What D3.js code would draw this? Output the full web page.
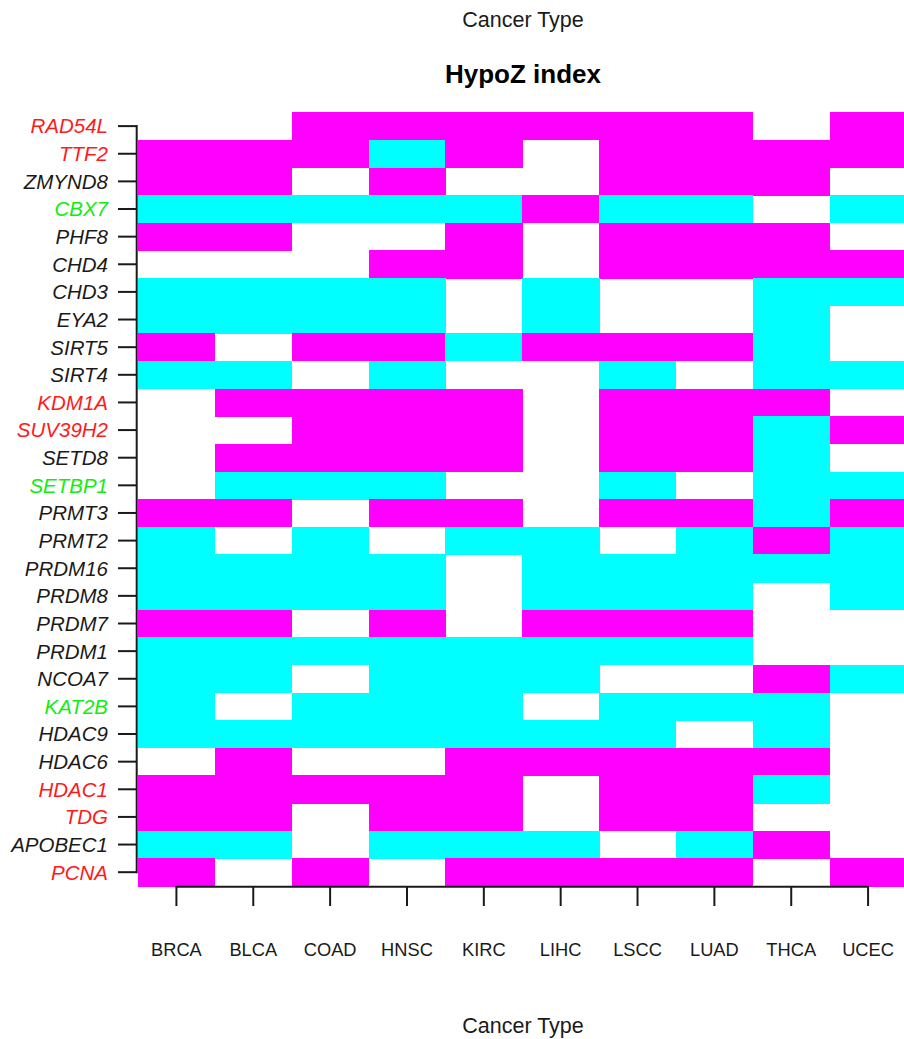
<!DOCTYPE html>
<html>
<head>
<meta charset="utf-8">
<script src="https://cdn.jsdelivr.net/npm/d3@7"></script>
<style>
  html, body { margin: 0; padding: 0; background: #fff; }
  svg { display: block; }
  text { font-family: "Liberation Sans", Arial, sans-serif; }
</style>
</head>
<body>
<svg id="chart" width="904" height="1039"></svg>
<script>
// Cancer types along the x axis
const cancerTypes = ["BRCA", "BLCA", "COAD", "HNSC", "KIRC", "LIHC", "LSCC", "LUAD", "THCA", "UCEC"];

// Genes, top to bottom
const genes = ["RAD54L", "TTF2", "ZMYND8", "CBX7", "PHF8", "CHD4", "CHD3", "EYA2", "SIRT5", "SIRT4",
  "KDM1A", "SUV39H2", "SETD8", "SETBP1", "PRMT3", "PRMT2", "PRDM16", "PRDM8", "PRDM7", "PRDM1",
  "NCOA7", "KAT2B", "HDAC9", "HDAC6", "HDAC1", "TDG", "APOBEC1", "PCNA"];

// Label group per gene: 1 = red, -1 = green, 0 = black
const geneGroup = [1, 1, 0, -1, 0, 0, 0, 0, 0, 0,
  1, 1, 0, -1, 0, 0, 0, 0, 0, 0,
  0, -1, 0, 0, 1, 1, 0, 1];

// HypoZ direction per gene (rows) and cancer type (columns): 1 = up, -1 = down, 0 = none
const hypoZ = [
  [ 0, 0, 1, 1, 1, 1, 1, 1, 0, 1],  // RAD54L
  [ 1, 1, 1,-1, 1, 0, 1, 1, 1, 1],  // TTF2
  [ 1, 1, 0, 1, 0, 0, 1, 1, 1, 0],  // ZMYND8
  [-1,-1,-1,-1,-1, 1,-1,-1, 0,-1],  // CBX7
  [ 1, 1, 0, 0, 1, 0, 1, 1, 1, 0],  // PHF8
  [ 0, 0, 0, 1, 1, 0, 1, 1, 1, 1],  // CHD4
  [-1,-1,-1,-1, 0,-1, 0, 0,-1,-1],  // CHD3
  [-1,-1,-1,-1, 0,-1, 0, 0,-1, 0],  // EYA2
  [ 1, 0, 1, 1,-1, 1, 1, 1,-1, 0],  // SIRT5
  [-1,-1, 0,-1, 0, 0,-1, 0,-1,-1],  // SIRT4
  [ 0, 1, 1, 1, 1, 0, 1, 1, 1, 0],  // KDM1A
  [ 0, 0, 1, 1, 1, 0, 1, 1,-1, 1],  // SUV39H2
  [ 0, 1, 1, 1, 1, 0, 1, 1,-1, 0],  // SETD8
  [ 0,-1,-1,-1, 0, 0,-1, 0,-1,-1],  // SETBP1
  [ 1, 1, 0, 1, 1, 0, 1, 1,-1, 1],  // PRMT3
  [-1, 0,-1, 0,-1,-1, 0,-1, 1,-1],  // PRMT2
  [-1,-1,-1,-1, 0,-1,-1,-1,-1,-1],  // PRDM16
  [-1,-1,-1,-1, 0,-1,-1,-1, 0,-1],  // PRDM8
  [ 1, 1, 0, 1, 0, 1, 1, 1, 0, 0],  // PRDM7
  [-1,-1,-1,-1,-1,-1,-1,-1, 0, 0],  // PRDM1
  [-1,-1, 0,-1,-1,-1, 0, 0, 1,-1],  // NCOA7
  [-1, 0,-1,-1,-1, 0,-1,-1,-1, 0],  // KAT2B
  [-1,-1,-1,-1,-1,-1,-1, 0,-1, 0],  // HDAC9
  [ 0, 1, 0, 0, 1, 1, 1, 1, 1, 0],  // HDAC6
  [ 1, 1, 1, 1, 1, 0, 1, 1,-1, 0],  // HDAC1
  [ 1, 1, 0, 1, 1, 0, 1, 1, 0, 0],  // TDG
  [-1,-1, 0,-1,-1,-1, 0,-1, 1, 0],  // APOBEC1
  [ 1, 0, 1, 0, 1, 1, 1, 1, 0, 1]   // PCNA
];

const svg = d3.select("#chart");

const plot = { left: 138, right: 906.5, top: 112.3, bottom: 886 };

const x = d3.scaleBand().domain(cancerTypes).range([plot.left, plot.right]).padding(0);
const y = d3.scaleBand().domain(genes).range([plot.top, plot.bottom]).padding(0);

const fill = d3.scaleOrdinal().domain([1, -1]).range(["#ff00ff", "#00ffff"]);
const labelColor = d3.scaleOrdinal().domain([1, -1, 0]).range(["#ff1a1a", "#10ee10", "#1a1a1a"]);

// Heatmap cells (blank cells are left unpainted)
const cells = [];
genes.forEach((g, i) => cancerTypes.forEach((c, j) => {
  if (hypoZ[i][j] !== 0) cells.push({ gene: g, type: c, v: hypoZ[i][j] });
}));

svg.append("g")
  .selectAll("rect")
  .data(cells)
  .join("rect")
  .attr("x", d => x(d.type))
  .attr("y", d => y(d.gene))
  .attr("width", x.bandwidth() + 0.5)
  .attr("height", y.bandwidth() + 0.5)
  .attr("fill", d => fill(d.v))
  .attr("shape-rendering", "crispEdges");

const axisColor = "#1a1a1a";

// Left axis: spine from first to last tick, italic coloured gene labels
const firstY = y(genes[0]) + y.bandwidth() / 2;
const lastY = y(genes[genes.length - 1]) + y.bandwidth() / 2;
const yAxisX = 136.7;
const yAxis = svg.append("g");
yAxis.append("line")
  .attr("x1", yAxisX).attr("x2", yAxisX)
  .attr("y1", firstY - 1).attr("y2", lastY + 1)
  .attr("stroke", axisColor).attr("stroke-width", 2);
yAxis.selectAll("line.tick")
  .data(genes)
  .join("line")
  .attr("class", "tick")
  .attr("x1", 118).attr("x2", yAxisX)
  .attr("y1", d => y(d) + y.bandwidth() / 2)
  .attr("y2", d => y(d) + y.bandwidth() / 2)
  .attr("stroke", axisColor).attr("stroke-width", 2);
yAxis.selectAll("text")
  .data(genes)
  .join("text")
  .attr("x", 108)
  .attr("y", d => y(d) + y.bandwidth() / 2)
  .attr("dy", "0.36em")
  .attr("text-anchor", "end")
  .attr("font-style", "italic")
  .attr("font-size", "20.5px")
  .attr("fill", (d, i) => labelColor(geneGroup[i]))
  .text(d => d);

// Bottom axis: spine from first to last tick, cancer type labels
const firstX = x(cancerTypes[0]) + x.bandwidth() / 2;
const lastX = x(cancerTypes[cancerTypes.length - 1]) + x.bandwidth() / 2;
const xAxisY = 886.7;
const xAxis = svg.append("g");
xAxis.append("line")
  .attr("x1", firstX - 1).attr("x2", lastX + 1)
  .attr("y1", xAxisY).attr("y2", xAxisY)
  .attr("stroke", axisColor).attr("stroke-width", 2);
xAxis.selectAll("line.tick")
  .data(cancerTypes)
  .join("line")
  .attr("class", "tick")
  .attr("x1", d => x(d) + x.bandwidth() / 2)
  .attr("x2", d => x(d) + x.bandwidth() / 2)
  .attr("y1", xAxisY).attr("y2", 906)
  .attr("stroke", axisColor).attr("stroke-width", 2);
xAxis.selectAll("text")
  .data(cancerTypes)
  .join("text")
  .attr("x", d => x(d) + x.bandwidth() / 2)
  .attr("y", 956)
  .attr("text-anchor", "middle")
  .attr("font-size", "18.3px")
  .attr("fill", axisColor)
  .text(d => d);

// Titles
const cx = 523;
svg.append("text")
  .attr("x", cx).attr("y", 26.7)
  .attr("text-anchor", "middle")
  .attr("font-size", "21.5px")
  .attr("fill", axisColor)
  .text("Cancer Type");

svg.append("text")
  .attr("x", cx).attr("y", 83.3)
  .attr("text-anchor", "middle")
  .attr("font-size", "26px")
  .attr("font-weight", "bold")
  .attr("fill", "#000")
  .text("HypoZ index");

svg.append("text")
  .attr("x", cx).attr("y", 1032.7)
  .attr("text-anchor", "middle")
  .attr("font-size", "21.5px")
  .attr("fill", axisColor)
  .text("Cancer Type");
</script>
</body>
</html>
